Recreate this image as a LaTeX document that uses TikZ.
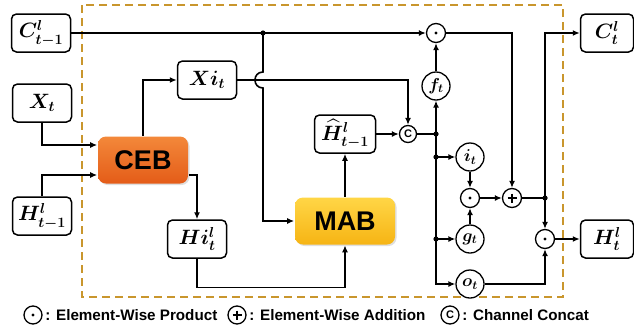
\documentclass[tikz,border=0pt]{standalone}
\usepackage{amsmath,amssymb}
\usepackage{fontspec}
\setsansfont{Liberation Sans}
\usetikzlibrary{arrows.meta,calc,shadows}
\definecolor{dashgold}{RGB}{201,150,45}
\definecolor{cebtop}{RGB}{243,136,58}
\definecolor{cebbot}{RGB}{228,92,24}
\definecolor{mabtop}{RGB}{255,214,70}
\definecolor{mabbot}{RGB}{246,180,20}
\begin{document}
\begin{tikzpicture}[
    x=1pt, y=-1pt, line width=1.6pt,
    >={Latex[length=7pt,width=6pt]},
    var/.style={draw, rounded corners=5pt, line width=1.5pt, fill=white,
                inner sep=0pt, minimum width=59pt, minimum height=38pt,
                font=\fontsize{22.5}{26}\selectfont},
    blk/.style={rounded corners=8pt, minimum width=90pt, minimum height=47pt,
                font=\fontsize{27}{30}\selectfont\sffamily\bfseries,
                drop shadow={opacity=0.25, shadow xshift=1.5pt, shadow yshift=-1.5pt}},
    gate/.style={draw, circle, line width=1.3pt, minimum size=28pt, inner sep=0pt,
                 fill=white, font=\fontsize{18.5}{21}\selectfont},
    op/.style={draw, circle, line width=1.3pt, minimum size=19pt, inner sep=0pt, fill=white},
    prod/.style={op, path picture={\fill[black] (path picture bounding box.center) circle (1.7pt);}},
    sum/.style={op, path picture={
        \draw[black, line width=1.6pt] ($(path picture bounding box.center)+(-4.5,0)$) -- ++(9,0)
                                ($(path picture bounding box.center)+(0,-4.5)$) -- ++(0,9);}},
    concat/.style={op, minimum size=17pt, font=\fontsize{11}{12}\selectfont\sffamily\bfseries},
    legend/.style={font=\fontsize{15.2}{17}\selectfont\sffamily\bfseries, anchor=west, inner sep=0pt}
  ]
  \useasboundingbox (0,0) rectangle (634,335);
  % cell boundary
  \draw[dashgold, line width=2.8pt, dash pattern=on 8pt off 5pt] (82,5) rectangle (563,297);

  % inputs and outputs
  \node[var] (Cprev) at (41,33)  {$\boldsymbol{C^{l}_{t-1}}$};
  \node[var] (Xt)    at (42,103) {$\boldsymbol{X_{t}}$};
  \node[var] (Hprev) at (42,216) {$\boldsymbol{H^{l}_{t-1}}$};
  \node[var, minimum width=53pt] (Ct) at (607,33)  {$\boldsymbol{C^{l}_{t}}$};
  \node[var, minimum width=53pt] (Ht) at (607,239) {$\boldsymbol{H^{l}_{t}}$};

  % blocks
  \node[blk, top color=cebtop, bottom color=cebbot] (CEB) at (143,160) {CEB};
  \node[blk, top color=mabtop, bottom color=mabbot, minimum width=100pt] (MAB) at (345,221) {MAB};
  \node[var] (Xi)   at (207,80)  {$\boldsymbol{Xi_{t}}$};
  \node[var] (Hi)   at (197,239) {$\boldsymbol{Hi^{l}_{t}}$};
  \node[var, minimum width=61pt] (Hhat) at (345,134) {$\boldsymbol{{\widehat{H}}^{l}_{t-1}}$};

  % gates
  \foreach \n/\pos in {f/{436,86}, i/{470,157}, g/{470,239}, o/{470,284}} {
    \node[gate] (\n) at (\pos) {$\boldsymbol{\n_{t}}$};
  }
  \node[concat] (cat) at (408,134) {C};
  \node[prod] (prodF)  at (436,33)  {};
  \node[prod] (prodIG) at (470,198) {};
  \node[sum]  (plus)   at (512,198) {};
  \node[prod] (prodO)  at (545,239) {};

  % junctions
  \coordinate (J1) at (263,33);
  \coordinate (hopT) at (263,72);
  \coordinate (hopB) at (263,88);
  \coordinate (J2) at (436,134);
  \coordinate (J3) at (436,157);
  \coordinate (J4) at (436,239);
  \coordinate (J5) at (545,198);

  % left part
  \draw[->] (Cprev) -- (prodF);
  \draw[->] (Xi.east) -| (cat.north);
  \draw[->] (J1) -- (hopT) .. controls +(-10.7,0) and +(-10.7,0) .. (hopB) |- (MAB.west);
  \draw[->] (Xt.south) |- ([yshift=15pt]CEB.west);
  \draw[->] (Hprev.north) |- ([yshift=-15pt]CEB.west);
  \draw[->] (CEB.north) |- (Xi.west);
  \draw[->] ([yshift=-15pt]CEB.east) -| (Hi.north);
  \draw[->] (Hi.south) |- ($(MAB.south)+(0,42)$) -- (MAB.south);
  \draw[->] (MAB) -- (Hhat);
  \draw[->] (Hhat) -- (cat);

  % gate bus
  \draw (cat) -- (J2);
  \draw[->] (J2) -- (f);
  \draw[->] (f) -- (prodF);
  \draw (J2) -- (J3) -- (J4);
  \draw[->] (J3) -- (i);
  \draw[->] (J4) -- (g);
  \draw[->] (J4) |- (o);

  % cell update
  \draw[->] (i) -- (prodIG);
  \draw[->] (g) -- (prodIG);
  \draw[->] (prodIG) -- (plus);
  \draw[->] (prodF) -| (plus);
  \draw (plus) -- (J5);
  \draw[->] (J5) -- (prodO);
  \draw[->] (J5) |- (Ct);
  \draw[->] (o) -| (prodO);
  \draw[->] (prodO) -- (Ht);

  \foreach \p in {J1, J2, J3, J4, J5} {
    \fill (\p) circle (2.6pt);
  }

  % legend
  \node[prod, minimum size=18pt] (lgP) at (33,315) {};
  \node[legend] at ([xshift=2pt]lgP.east) {: Element-Wise Product};
  \node[sum, minimum size=18pt] (lgS) at (237,315) {};
  \node[legend] at ([xshift=2pt]lgS.east) {: Element-Wise Addition};
  \node[concat, minimum size=18pt] (lgC) at (450,315) {C};
  \node[legend] at ([xshift=2pt]lgC.east) {: Channel Concat};
\end{tikzpicture}
\end{document}
